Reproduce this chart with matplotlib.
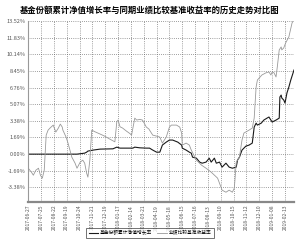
import matplotlib
matplotlib.use("Agg")
import matplotlib.pyplot as plt

plt.rcParams['font.family'] = ['Noto Sans CJK SC', 'DejaVu Sans']

title = "基金份额累计净值增长率与同期业绩比较基准收益率的历史走势对比图"
fund_label = "基金份额累计净值增长率"
bench_label = "业绩比较基准收益率"

yticks = [-3.38, -1.69, 0.00, 1.69, 3.38, 5.07, 6.76, 8.45, 10.14, 11.83, 13.52]
xtick_labels = ["2017-06-27", "2017-07-25", "2017-08-22", "2017-09-19", "2017-10-24",
                "2017-11-21", "2017-12-19", "2018-01-17", "2018-02-14", "2018-03-21",
                "2018-04-19", "2018-05-18", "2018-06-15", "2018-07-16", "2018-08-13",
                "2018-09-10", "2018-10-15", "2018-11-12", "2018-12-10", "2019-01-08",
                "2019-02-13"]
tick_step = 20

bench_day = [0, 5, 8, 12, 16, 19, 22, 25, 28, 31, 34, 39, 43, 47, 50, 53, 54, 59, 62, 68,
             73, 76, 81, 85, 88, 91, 93, 96, 99, 104, 112, 119, 127, 135, 138, 140, 143, 147,
             153, 158, 161, 166, 169, 174, 178, 184, 188, 189, 194, 200, 205, 209, 215, 220,
             223, 231, 236, 239, 240, 246, 251, 254, 262, 270, 277, 285, 295, 302, 308, 313,
             318, 321, 322, 324, 329, 333, 336, 344, 349, 352, 355, 357, 364, 370, 375, 378,
             380, 383, 386, 388, 391, 394, 395, 398, 401, 406, 411, 414]
bench_val = [-1.43, -1.83, -2.14, -1.63, -1.43, -2.14, -2.44, -1.63, 1.93, 2.44, 2.65, 2.95,
             2.24, 2.65, 3.05, 2.75, 2.44, 1.73, 1.12, -0.31, -0.92, -1.43, -0.81, -0.61,
             -0.92, -1.93, -2.34, -0.61, 2.44, 2.27, 2.04, 1.83, 1.53, 1.25, 3.29, 3.46, 2.78,
             2.65, 2.34, 2.11, 1.93, 3.66, 3.46, 3.53, 3.46, 2.75, 2.55, 2.44, 1.93, 1.83,
             1.73, 1.12, 1.73, 2.75, 2.95, 2.95, 2.75, 2.14, 0.92, 1.12, 0.92, 0.41, -0.61,
             -1.12, -1.43, -1.83, -2.44, -3.66, -3.87, -3.66, -3.87, -3.46, -2.65, -0.81,
             -0.31, 1.43, 2.14, 2.44, 2.65, 3.66, 6.82, 7.53, 8.04, 8.25, 8.35, 8.04, 8.35,
             8.25, 7.84, 8.86, 10.59, 10.89, 10.59, 10.79, 11.30, 11.91, 13.34, 13.64]

fund_day = [0, 68, 76, 88, 91, 93, 101, 112, 132, 138, 143, 163, 166, 174, 184, 189, 194,
            200, 205, 209, 215, 220, 225, 233, 239, 240, 246, 251, 254, 256, 262, 267, 271,
            277, 282, 285, 290, 293, 298, 302, 308, 313, 318, 324, 326, 329, 333, 339, 344,
            349, 352, 355, 357, 363, 367, 372, 375, 378, 380, 386, 391, 392, 394, 395, 398,
            400, 403, 406, 409, 414]
fund_val = [0.00, 0.00, 0.00, 0.10, 0.20, 0.31, 0.41, 0.51, 0.54, 0.71, 0.61, 0.61, 0.71,
            0.64, 0.61, 0.61, 0.41, 0.20, 0.20, 0.92, 1.22, 1.43, 1.43, 1.22, 0.92, 0.61,
            0.41, 0.20, 0.10, -0.31, -0.41, -0.81, -0.92, -0.81, -0.41, -0.81, -0.41, -0.92,
            -0.81, -1.32, -0.92, -1.32, -1.43, -1.32, -0.61, -0.31, 0.41, 0.81, 0.92, 1.12,
            2.75, 3.15, 2.95, 3.15, 3.46, 3.66, 3.77, 3.46, 3.26, 3.46, 3.66, 5.80, 6.00,
            5.70, 5.50, 5.19, 6.21, 6.82, 7.53, 8.55]

fig = plt.figure(figsize=(3.0, 2.42), dpi=100)
ax = fig.add_axes([0.094, 0.165, 0.886, 0.748])

fund_line, = ax.plot(fund_day, fund_val, color="#1a1a1a", lw=0.8, label=fund_label)
bench_line, = ax.plot(bench_day, bench_val, color="#999999", lw=0.6, label=bench_label)

ax.set_xlim(0, 414)
ax.set_ylim(-4.87, 13.52)
ax.set_yticks(yticks)
ax.set_yticklabels([f"{v:.2f}%" for v in yticks])
xt = [i * tick_step for i in range(len(xtick_labels))]
ax.set_xticks(xt)
ax.set_xticklabels(xtick_labels, rotation=90)

ax.grid(True, color="#666666", linestyle=(0, (1, 1.8)), linewidth=0.55)
ax.tick_params(axis='y', length=0, labelsize=4.0, labelcolor="#555555", pad=2)
ax.tick_params(axis='x', length=0, labelsize=3.6, labelcolor="#555555", pad=2)

for s in ['top', 'right']:
    ax.spines[s].set_visible(False)
ax.spines['left'].set_color("#999999")
ax.spines['left'].set_linewidth(0.8)
ax.spines['bottom'].set_color("#888888")
ax.spines['bottom'].set_linewidth(1.6)

fig.text(0.5, 0.975, title, ha='center', va='top', fontsize=6.0, fontweight='bold')

leg = fig.legend(handles=[fund_line, bench_line], loc='lower center',
                 bbox_to_anchor=(0.5, 0.005), ncol=2, fontsize=3.4, frameon=True,
                 fancybox=False, edgecolor="#333333", handlelength=2.0,
                 handletextpad=0.4, columnspacing=1.0, borderpad=0.6)
leg.get_frame().set_linewidth(0.6)

fig.savefig("out.png", dpi=100)
